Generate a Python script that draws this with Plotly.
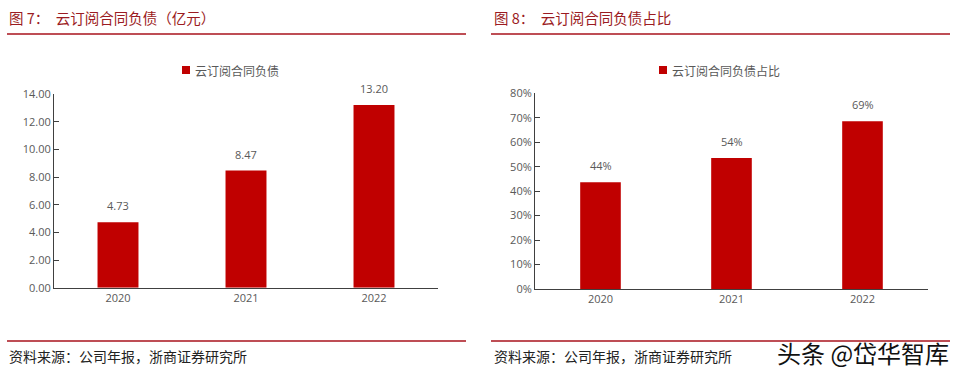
import plotly.graph_objects as go

W, H = 963, 377

years = ["2020", "2021", "2022"]
liability = [4.73, 8.47, 13.20]          # 亿元
share = [0.436, 0.536, 0.686]            # 占比

left_title = "图 7：  云订阅合同负债（亿元）"
right_title = "图 8：  云订阅合同负债占比"
left_legend = "云订阅合同负债"
right_legend = "云订阅合同负债占比"
source = "资料来源：公司年报，浙商证券研究所"
watermark = "头条 @岱华智库"

BAR = "#c00000"
RED_LINE = "#a8131d"
TITLE_C = "#9b1b22"
GRAY = "#595959"
CJK = "Noto Sans CJK SC"
NUM = "Open Sans, Noto Sans, sans-serif"


def px_x(p):
    return p / W


def px_y(p):
    return 1 - p / H


fig = go.Figure()
fig.add_trace(go.Bar(x=years, y=liability, marker_color=BAR, width=0.32,
                     xaxis="x", yaxis="y", showlegend=False, name=left_legend))
fig.add_trace(go.Bar(x=years, y=share, marker_color=BAR, width=0.31,
                     xaxis="x2", yaxis="y2", showlegend=False, name=right_legend))

axis_common = dict(showline=True, linecolor="#404040", linewidth=1,
                   showgrid=False, zeroline=False, fixedrange=True, automargin=False,
                   tickfont=dict(family=NUM, size=11, color=GRAY))

n = len(years)
fig.update_layout(
    template="none",
    width=W, height=H,
    margin=dict(l=0, r=0, t=0, b=0, pad=0, autoexpand=False),
    paper_bgcolor="white", plot_bgcolor="white",
    xaxis=dict(domain=[px_x(54), px_x(438)], anchor="y", type="category",
               range=[-0.5, n - 0.5], ticks="", **axis_common),
    yaxis=dict(domain=[px_y(287.7), px_y(94)], anchor="x", range=[0, 14],
               dtick=2, tickformat=".2f", ticks="inside", ticklen=5,
               tickcolor="#404040", **axis_common),
    xaxis2=dict(domain=[px_x(535), px_x(928)], anchor="y2", type="category",
                range=[-0.5, n - 0.5], ticks="", **axis_common),
    yaxis2=dict(domain=[px_y(289), px_y(93.3)], anchor="x2", range=[0, 0.8],
                dtick=0.1, tickformat=".0%", ticks="inside", ticklen=5,
                tickcolor="#404040", **axis_common),
)

anns = []
# data labels (category index positions)
for i, v in enumerate(liability):
    anns.append(dict(x=i, y=v, xref="x", yref="y", text=f"{v:.2f}", showarrow=False,
                     yanchor="bottom", yshift=7,
                     font=dict(family=NUM, size=11, color=GRAY)))
for i, v in enumerate(share):
    anns.append(dict(x=i, y=v, xref="x2", yref="y2", text=f"{v:.0%}", showarrow=False,
                     yanchor="bottom", yshift=7,
                     font=dict(family=NUM, size=11, color=GRAY)))

# titles
anns.append(dict(x=px_x(7), y=px_y(18), xref="paper", yref="paper", text=left_title,
                 showarrow=False, xanchor="left", yanchor="middle",
                 font=dict(family=CJK, size=14.5, color=TITLE_C)))
anns.append(dict(x=px_x(492), y=px_y(18), xref="paper", yref="paper", text=right_title,
                 showarrow=False, xanchor="left", yanchor="middle",
                 font=dict(family=CJK, size=14.5, color=TITLE_C)))
# legends
anns.append(dict(x=px_x(193), y=px_y(70), xref="paper", yref="paper", text=left_legend,
                 showarrow=False, xanchor="left", yanchor="middle",
                 font=dict(family=CJK, size=12, color=GRAY)))
anns.append(dict(x=px_x(670), y=px_y(70), xref="paper", yref="paper", text=right_legend,
                 showarrow=False, xanchor="left", yanchor="middle",
                 font=dict(family=CJK, size=12, color=GRAY)))
# sources
for x0 in (7, 492):
    anns.append(dict(x=px_x(x0), y=px_y(356), xref="paper", yref="paper", text=source,
                     showarrow=False, xanchor="left", yanchor="middle",
                     font=dict(family=CJK, size=14, color="#222222")))
# watermark
anns.append(dict(x=px_x(951), y=px_y(352), xref="paper", yref="paper", text=watermark,
                 showarrow=False, xanchor="right", yanchor="middle",
                 font=dict(family=CJK, size=24, color="#111111")))
fig.update_layout(annotations=anns)

shapes = []
for x0, x1 in ((7, 466), (491, 950)):
    for yy in (34, 341):
        shapes.append(dict(type="line", xref="paper", yref="paper",
                           x0=px_x(x0), x1=px_x(x1), y0=px_y(yy), y1=px_y(yy),
                           line=dict(color=RED_LINE, width=1.3)))
# legend squares
for lx in (182, 659):
    shapes.append(dict(type="rect", xref="paper", yref="paper",
                       x0=px_x(lx), x1=px_x(lx + 8), y0=px_y(74), y1=px_y(66),
                       fillcolor=BAR, line=dict(width=0)))
fig.update_layout(shapes=shapes)

fig.write_html("out.html", config={"displayModeBar": False},
               post_script="document.body.style.margin='0';document.body.style.overflow='hidden';")
